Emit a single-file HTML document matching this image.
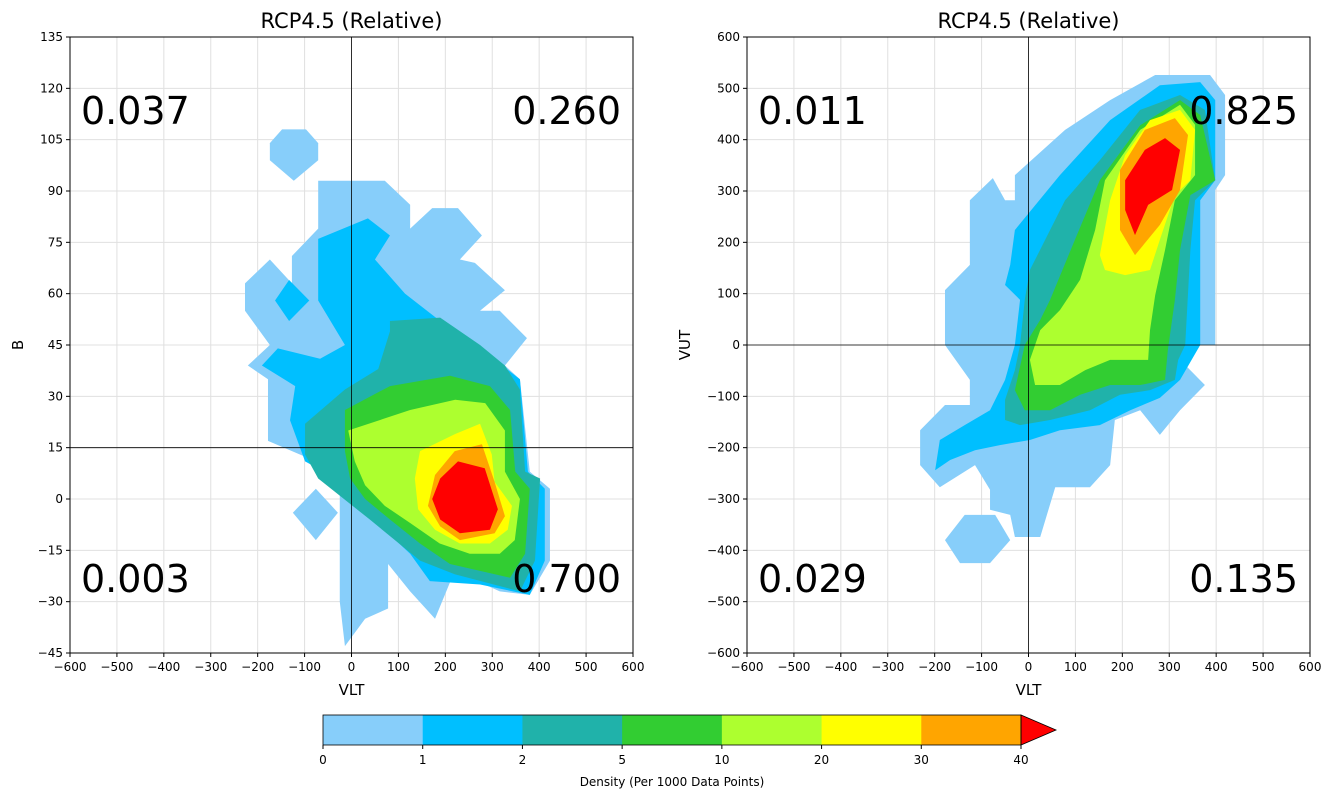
<!DOCTYPE html>
<html><head><meta charset="utf-8"><style>
body{margin:0;background:#fff}
svg{display:block;font-family:"DejaVu Sans","Liberation Sans",sans-serif}
</style></head><body>
<svg id="fig" width="1332" height="799" viewBox="0 0 1332 799" xmlns="http://www.w3.org/2000/svg"></svg>
<script>
const levels=[0,1,2,5,10,20,30,40];
const levelColors=["#87CEFA","#00BFFF","#20B2AA","#32CD32","#ADFF2F","#FFFF00","#FFA500","#FF0000"];
const xTicks=[-600,-500,-400,-300,-200,-100,0,100,200,300,400,500,600];
const leftYTicks=[-45,-30,-15,0,15,30,45,60,75,90,105,120,135];
const rightYTicks=[-600,-500,-400,-300,-200,-100,0,100,200,300,400,500,600];
const leftFractions=["0.037","0.260","0.003","0.700"];
const rightFractions=["0.011","0.825","0.029","0.135"];
const leftPolys=[
[0,[[-71,93],[71,93],[125,86],[125,79],[172,85],[227,85],[278,77],[231,70],[263,69],[327,61],[274,55],[316,55],[374,47],[327,39],[359,35],[380,8],[423,3],[423,-18],[380,-28],[316,-27],[220,-21],[178,-35],[125,-27],[78,-19],[78,-32],[29,-35],[-14,-43],[-25,-30],[-25,8],[-110,13],[-178,17],[-178,35],[-221,39],[-174,45],[-227,55],[-227,63],[-174,70],[-127,63],[-127,71],[-71,79]]],
[0,[[-174,104],[-148,108],[-97,108],[-71,104],[-71,99],[-123,93],[-174,99]]],
[0,[[-76,3],[-29,-4],[-76,-12],[-125,-4]]],
[1,[[-71,76],[35,82],[82,77],[50,70],[114,60],[189,52],[274,44],[359,35],[376,8],[412,3],[412,-18],[380,-28],[274,-25],[167,-24],[125,-16],[39,-5],[-46,7],[-99,11],[-131,23],[-120,33],[-191,39],[-157,44],[-67,41],[-14,45],[-71,58]]],
[1,[[-163,58],[-133,64],[-90,58],[-133,52]]],
[2,[[82,52],[189,53],[274,45],[327,39],[359,32],[370,8],[402,6],[391,-18],[359,-27],[220,-22],[146,-18],[39,-6],[-71,6],[-99,13],[-99,22],[-14,32],[57,38],[82,49]]],
[3,[[-14,26],[82,33],[210,36],[295,33],[338,26],[349,8],[380,3],[370,-16],[338,-23],[210,-19],[146,-13],[82,-6],[29,0],[-3,6],[-14,14]]],
[4,[[-7,20],[125,26],[221,29],[285,28],[327,20],[327,8],[359,0],[348,-12],[316,-16],[252,-16],[188,-13],[125,-7],[71,-2],[29,4],[7,11]]],
[5,[[146,14],[221,19],[274,22],[299,13],[305,5],[342,-2],[333,-9],[295,-13],[231,-13],[178,-9],[142,-3],[135,6]]],
[6,[[178,7],[220,14],[278,16],[305,5],[327,-5],[305,-10],[231,-12],[189,-8],[163,-2]]],
[7,[[189,6],[227,11],[284,9],[312,-3],[295,-9],[231,-10],[189,-6],[172,0]]]
];
const rightPolys=[
[0,[[-29,331],[78,419],[174,477],[270,526],[387,526],[419,487],[419,331],[398,302],[398,0],[366,0],[334,-39],[376,-78],[323,-127],[280,-175],[238,-127],[184,-146],[174,-234],[131,-277],[57,-277],[25,-374],[-29,-374],[-39,-331],[-82,-321],[-82,-282],[-114,-234],[-189,-277],[-231,-234],[-231,-166],[-178,-117],[-125,-117],[-125,-68],[-178,0],[-178,107],[-125,156],[-125,282],[-76,325],[-50,282],[-29,282]]],
[0,[[-178,-380],[-136,-331],[-71,-331],[-39,-380],[-82,-425],[-146,-425]]],
[1,[[-29,224],[67,331],[174,438],[280,506],[366,512],[398,477],[398,321],[366,282],[366,0],[323,-68],[280,-103],[217,-127],[152,-156],[67,-166],[3,-185],[-61,-195],[-114,-205],[-167,-224],[-199,-244],[-189,-185],[-136,-156],[-82,-127],[-50,-68],[-29,0],[-18,88],[-50,117],[-39,156]]],
[2,[[3,146],[78,282],[152,360],[238,458],[323,487],[376,458],[398,321],[355,282],[345,185],[334,0],[319,-29],[312,-68],[259,-88],[195,-97],[131,-127],[46,-146],[-18,-156],[-50,-146],[-50,-107],[-29,-49],[-18,0],[-8,88]]],
[3,[[46,88],[99,205],[152,321],[238,428],[323,477],[366,448],[398,321],[345,292],[323,185],[312,88],[297,-10],[291,-68],[238,-78],[174,-78],[110,-97],[46,-127],[-8,-127],[-29,-88],[-8,0],[25,49]]],
[4,[[25,29],[67,68],[110,127],[142,224],[163,321],[238,419],[323,468],[355,429],[355,331],[312,282],[291,185],[270,97],[259,29],[255,-29],[174,-29],[121,-49],[67,-78],[14,-78],[3,-29]]],
[5,[[152,175],[174,282],[206,370],[259,438],[323,458],[355,419],[345,321],[312,292],[280,205],[259,146],[206,136],[163,146]]],
[6,[[195,224],[195,341],[248,419],[312,442],[340,409],[323,302],[280,234],[227,175]]],
[7,[[206,321],[248,380],[291,403],[323,380],[306,302],[255,273],[227,214],[206,263]]]
];
const NS="http://www.w3.org/2000/svg";
const svg=document.getElementById('fig');
function mk(tag,attrs,parent,text){const e=document.createElementNS(NS,tag);for(const k in attrs)e.setAttribute(k,attrs[k]);if(text!==undefined)e.textContent=text;(parent||svg).appendChild(e);return e;}
const fmt=v=>v<0?"\u2212"+(-v):String(v);
function panel(name,x0,x1,y0,y1,ymin,ymax,yTicks,polys,hLine,fr,ylabel){
  const g=mk('g',{});
  
  
  const sx=v=>x0+(v+600)/1200*(x1-x0);
  const sy=v=>y1-(v-ymin)/(ymax-ymin)*(y1-y0);
  xTicks.forEach(t=>{const l=mk('line',{x1:sx(t),x2:sx(t),y1:y0,y2:y1,stroke:"#e0e0e0","stroke-width":1},g);});
  yTicks.forEach(t=>{const l=mk('line',{x1:x0,x2:x1,y1:sy(t),y2:sy(t),stroke:"#e0e0e0","stroke-width":1},g);});
  polys.forEach(p=>{const e=mk('polygon',{points:p[1].map(q=>sx(q[0])+","+sy(q[1])).join(" "),fill:levelColors[p[0]]},g);});
  let l=mk('line',{x1:sx(0),x2:sx(0),y1:y0,y2:y1,stroke:"#000","stroke-width":0.8},g);
  l=mk('line',{x1:x0,x2:x1,y1:sy(hLine),y2:sy(hLine),stroke:"#000","stroke-width":0.8},g);
  const fr0=mk('rect',{x:x0,y:y0,width:x1-x0,height:y1-y0,fill:"none",stroke:"#000","stroke-width":1},g);
  xTicks.forEach(t=>{mk('line',{x1:sx(t),x2:sx(t),y1:y1,y2:y1+4,stroke:"#000"},g);const tx=mk('text',{x:sx(t),y:y1+18,"font-size":12,"text-anchor":"middle"},g,fmt(t));});
  yTicks.forEach(t=>{mk('line',{x1:x0-4,x2:x0,y1:sy(t),y2:sy(t),stroke:"#000"},g);const tx=mk('text',{x:x0-7,y:sy(t)+4,"font-size":12,"text-anchor":"end"},g,fmt(t));});
  let t=mk('text',{x:(x0+x1)/2,y:28,"font-size":21,"text-anchor":"middle"},g,"RCP4.5 (Relative)");
  t=mk('text',{x:(x0+x1)/2,y:695,"font-size":15,"text-anchor":"middle"},g,"VLT");
  const yl=x0-(ylabel==="B"?47:57);
  t=mk('text',{x:yl,y:(y0+y1)/2,"font-size":15,"text-anchor":"middle",transform:`rotate(-90 ${yl} ${(y0+y1)/2})`},g,ylabel);
  const pos=[[x0+11,124,"start"],[x1-12,124,"end"],[x0+11,592,"start"],[x1-12,592,"end"]];
  fr.forEach((v,i)=>{const e=mk('text',{x:pos[i][0],y:pos[i][1],"font-size":38,"text-anchor":pos[i][2]},g,v);});
}
panel('left-panel',70,633,37,653,-45,135,leftYTicks,leftPolys,15,leftFractions,"B");
panel('right-panel',747,1310,37,653,-600,600,rightYTicks,rightPolys,0,rightFractions,"VUT");
const cb=mk('g',{});


const cx0=323,cx1=1021,cy0=715,cy1=745,w=(cx1-cx0)/(levels.length-1);
for(let i=0;i<levels.length-1;i++){const r=mk('rect',{x:cx0+i*w,y:cy0,width:w+0.5,height:cy1-cy0,fill:levelColors[i]},cb);}
const ar=mk('polygon',{points:`${cx1},${cy0} ${cx1+35},${(cy0+cy1)/2} ${cx1},${cy1}`,fill:levelColors[7],stroke:"#000","stroke-width":0.8},cb);


mk('rect',{x:cx0,y:cy0,width:cx1-cx0,height:cy1-cy0,fill:"none",stroke:"#000","stroke-width":0.8},cb);
levels.forEach((lv,i)=>{mk('line',{x1:cx0+i*w,x2:cx0+i*w,y1:cy1,y2:cy1+4,stroke:"#000"},cb);const t=mk('text',{x:cx0+i*w,y:cy1+19,"font-size":12,"text-anchor":"middle"},cb,String(lv));});
const cl=mk('text',{x:(cx0+cx1)/2,y:786,"font-size":12,"text-anchor":"middle"},cb,"Density (Per 1000 Data Points)");


</script>
</body></html>
